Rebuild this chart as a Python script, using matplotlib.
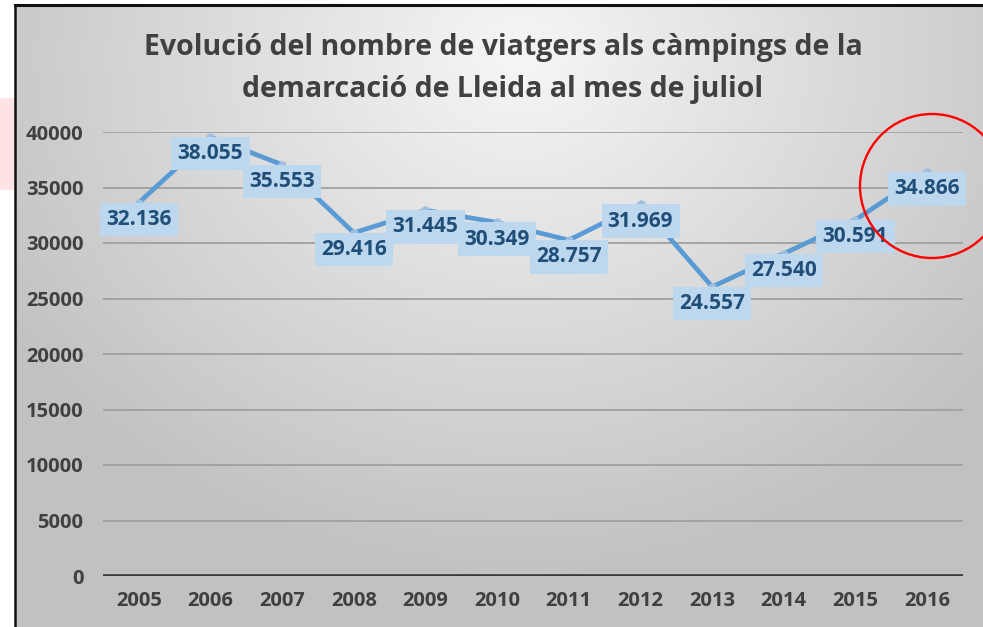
import numpy as np
import matplotlib
matplotlib.use("Agg")
import matplotlib.pyplot as plt
from matplotlib import transforms
from matplotlib.patches import Ellipse, Rectangle
from matplotlib.lines import Line2D

plt.rcParams['font.family'] = ['Open Sans', 'DejaVu Sans']

# ---- data ----
years = ['2005', '2006', '2007', '2008', '2009', '2010', '2011', '2012',
         '2013', '2014', '2015', '2016']
viatgers = [32136, 38055, 35553, 29416, 31445, 30349, 28757, 31969,
            24557, 27540, 30591, 34866]
labels = ['32.136', '38.055', '35.553', '29.416', '31.445', '30.349', '28.757',
          '31.969', '24.557', '27.540', '30.591', '34.866']
yticks = [0, 5000, 10000, 15000, 20000, 25000, 30000, 35000, 40000]
title_lines = ["Evolució del nombre de viatgers als càmpings de la",
               "demarcació de Lleida al mes de juliol"]

W, H = 983, 627
fig = plt.figure(figsize=(W / 100, H / 100), dpi=100)
fig.patch.set_facecolor('white')

# faint pink background piece outside the chart frame
fig.patches.append(Rectangle((0, 1 - 190 / H), 15 / W, 92 / H, transform=fig.transFigure,
                             facecolor='#fde3e3', edgecolor='none', zorder=-5))

# gradient chart background
bg = fig.add_axes([15 / W, 0, 1 - 15 / W, 1 - 5 / H])
bg.set_axis_off()
ny, nx = 300, 480
yy, xx = np.mgrid[0:ny, 0:nx]
cx, cy = nx * 0.52, ny * 0.08
d = np.sqrt(((xx - cx) / nx) ** 2 * 1.0 + ((yy - cy) / ny) ** 2 * 0.55)
d = np.clip(d / 0.62, 0, 1)
light = np.array([0.965, 0.965, 0.965])
dark = np.array([0.76, 0.76, 0.76])
img = light[None, None, :] * (1 - d[..., None]) + dark[None, None, :] * d[..., None]
bg.imshow(img, aspect='auto', interpolation='bilinear')

# frame lines (top and left)
fig.lines.append(Line2D([15 / W, 1], [1 - 5 / H, 1 - 5 / H], transform=fig.transFigure,
                        color='#111111', lw=2.2))
fig.lines.append(Line2D([15 / W, 15 / W], [0, 1 - 5 / H], transform=fig.transFigure,
                        color='#111111', lw=1.8))

# main axes
ax = fig.add_axes([103 / W, 1 - 576 / H, 860 / W, 444 / H])
ax.patch.set_alpha(0)
x = np.arange(len(years))
ax.set_xlim(-0.5, len(years) - 0.5)
ax.set_ylim(0, 40000)
ax.set_yticks(yticks)
ax.set_yticklabels([str(t) for t in yticks])
ax.set_xticks(x)
ax.set_xticklabels(years)
for s in ax.spines.values():
    s.set_visible(False)
ax.grid(axis='y', color='#a0a0a0', lw=1.3)
ax.set_axisbelow(True)
ax.axhline(0, color='#3a3a3a', lw=2.6, zorder=2)
ax.tick_params(length=0, labelsize=14.5, labelcolor='#404040')
ax.tick_params(axis='y', pad=14)
ax.tick_params(axis='x', pad=11)
for t in ax.get_xticklabels() + ax.get_yticklabels():
    t.set_fontweight('bold')

# line (drawn slightly above the label centres, as in the original)
off = transforms.offset_copy(ax.transData, fig=fig, x=0, y=12, units='points')
ax.plot(x, viatgers, color='#5b9bd5', lw=3.4, marker='o', ms=5,
        mfc='#9dbfe2', mec='#9dbfe2', transform=off, zorder=3, solid_capstyle='round')

for xi, v, lab in zip(x, viatgers, labels):
    ax.text(xi, v, lab, ha='center', va='center', fontsize=15, fontweight='bold',
            color='#1f4e79', zorder=4,
            bbox=dict(boxstyle='square,pad=0.3', facecolor='#bdd7ee', edgecolor='none'))

fig.text(503 / W, 1 - 55 / H, title_lines[0], ha='center', va='baseline', fontsize=20.5,
         fontweight='bold', color='#404040')
fig.text(503 / W, 1 - 97 / H, title_lines[1], ha='center', va='baseline', fontsize=20.5,
         fontweight='bold', color='#404040')

# red circle highlight
fig.patches.append(Ellipse((932 / W, 1 - 186 / H), 144 / W, 144 / H, transform=fig.transFigure,
                           fill=False, edgecolor='#ff0000', lw=1.7, zorder=10))

fig.savefig('out.png', dpi=100)
